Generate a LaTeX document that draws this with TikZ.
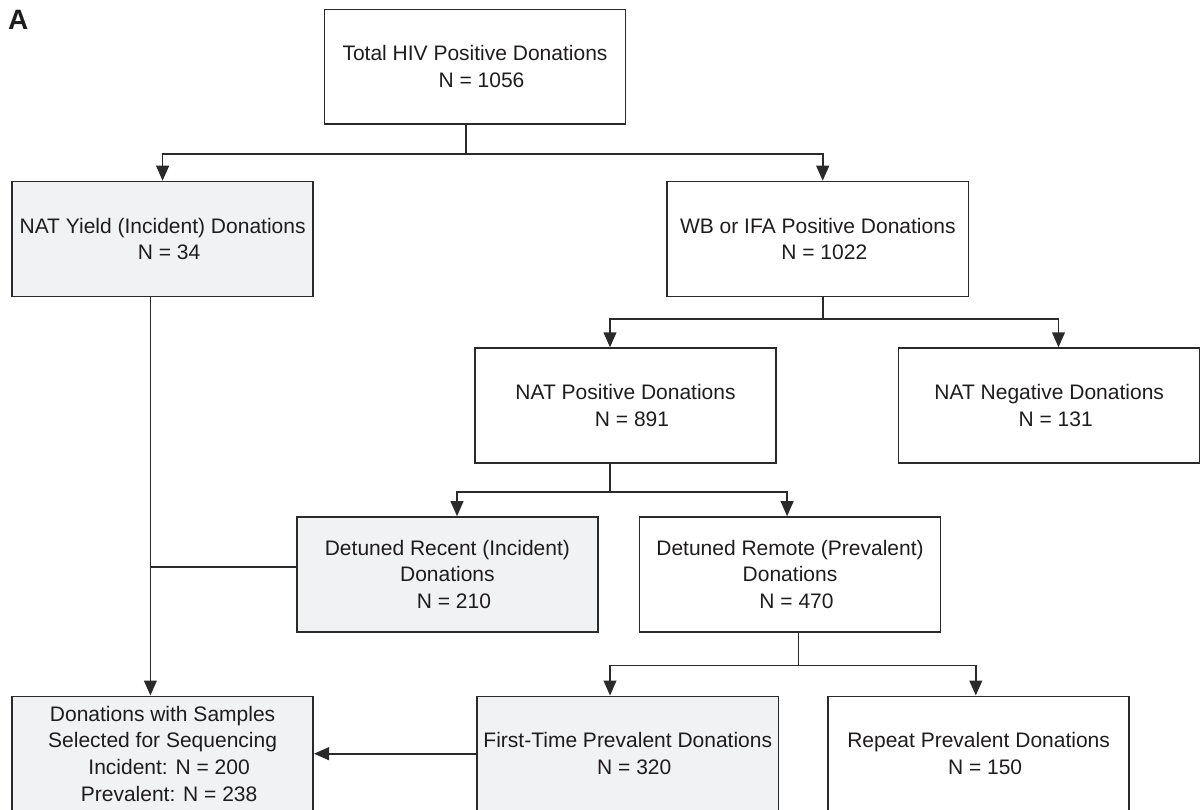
\documentclass[tikz,border=0pt]{standalone}
\usepackage{fontspec}
\setmainfont{Liberation Sans}
\usetikzlibrary{arrows.meta}
\definecolor{boxgray}{HTML}{F1F2F4}
\definecolor{edge}{HTML}{2A2A2A}
\definecolor{ink}{HTML}{1F1C1D}
\newcommand{\nval}[1]{\hspace*{6.5pt}N = #1}
\begin{document}
\begin{tikzpicture}[x=0.5pt,y=-0.5pt,
	box/.style={draw=edge,line width=0.8pt,rectangle,inner sep=0pt,minimum width=150.6pt,minimum height=57.4pt,align=center,text=ink,font=\fontsize{10.5}{13.35}\selectfont},
	shaded/.style={box,fill=boxgray},
	link/.style={draw=edge,line width=0.8pt},
	arr/.style={link,-{Triangle[length=7.5pt,width=6.4pt]}}]
				\useasboundingbox (0,0) rectangle (1200,809);
				\node[font=\fontsize{14}{16}\bfseries\selectfont,text=ink,inner sep=0pt] (lbl) at (18.3,20){A};
				\node[box] (total) at (475,66.8){Total HIV Positive Donations\\ \nval{1056}};
				\node[shaded] (yield) at (162.6,238.9){NAT Yield (Incident) Donations\\ \nval{34}};
				\node[box] (wb) at (817.8,238.9){WB or IFA Positive Donations\\ \nval{1022}};
				\node[box] (natpos) at (625.5,405.5){NAT Positive Donations\\ \nval{891}};
				\node[box] (natneg) at (1049.2,405.5){NAT Negative Donations\\ \nval{131}};
				\node[shaded] (recent) at (447.4,574.4){Detuned Recent (Incident)\\ Donations\\ \nval{210}};
				\node[box] (remote) at (790,574.4){Detuned Remote (Prevalent)\\ Donations\\ \nval{470}};
				\node[shaded] (samples) at (162.6,753.7){Donations with Samples\\ Selected for Sequencing\\ \hspace*{6.5pt}Incident: N = 200\\ \hspace*{6.5pt}Prevalent: N = 238};
				\node[shaded] (first) at (627.8,753.7){First-Time Prevalent Donations\\ \nval{320}};
				\node[box] (repeat) at (978.6,753.7){Repeat Prevalent Donations\\ \nval{150}};
				% branch points
				\coordinate (b1) at (466,154);
				\coordinate (b2) at (822.7,319);
				\coordinate (b3) at (610,492);
				\coordinate (b4) at (798.6,665.5);
				\coordinate (b5) at (150.4,566.7);
				\draw[link] (total.south -| b1)--(b1);
				\draw[arr] (b1)-|(yield.north);
				\draw[arr] (b1)-|([xshift=2.45pt]wb.north);
				\draw[link] (wb.south -| b2)--(b2);
				\draw[arr] (b2)-|([xshift=-7.75pt]natpos.north);
				\draw[arr] (b2)-|([xshift=4.65pt]natneg.north);
				\draw[link] (natpos.south -| b3)--(b3);
				\draw[arr] (b3)-|([xshift=4.8pt]recent.north);
				\draw[arr] (b3)-|([xshift=-1.45pt]remote.north);
				\draw[link] (remote.south -| b4)--(b4);
				\draw[arr] (b4)-|([xshift=-8.9pt]first.north);
				\draw[arr] (b4)-|([xshift=-1.4pt]repeat.north);
				\draw[arr] (yield.south -| b5)--(samples.north -| b5);
				\draw[link] (recent.west |- b5)--(b5);
				\draw[arr] (first)--(samples);
				\end{tikzpicture}
\end{document}
